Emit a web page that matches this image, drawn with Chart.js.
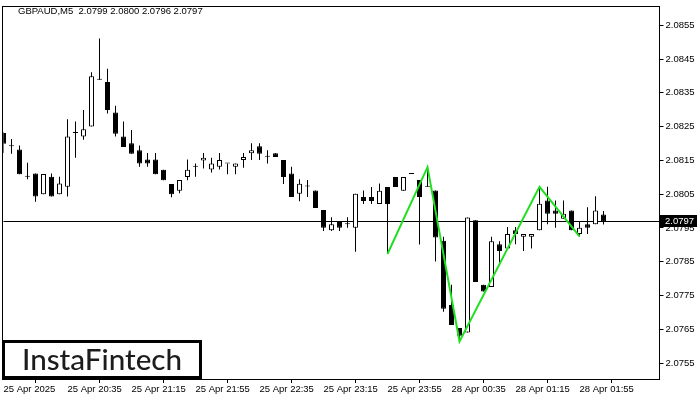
<!DOCTYPE html>
<html>
<head>
<meta charset="utf-8">
<title>GBPAUD M5</title>
<script src="https://cdn.jsdelivr.net/npm/chart.js@4.4.1/dist/chart.umd.min.js"></script>
<style>
  html, body { margin: 0; padding: 0; background: #fff; }
  #wrap { width: 700px; height: 400px; }
</style>
</head>
<body>
<div id="wrap"><canvas id="chart"></canvas></div>
<script>
// GBPAUD M5 candles, 25 Apr 19:55 .. 28 Apr 02:10
const opens = [
  2.08231, 2.08192, 2.08182, 2.08102, 2.08111, 2.08050, 2.08102, 2.08050, 2.08072, 2.08231,
  2.08221, 2.08250, 2.08389, 2.08382, 2.08292, 2.08221, 2.08201, 2.08180, 2.08153, 2.08153,
  2.08122, 2.08080, 2.08060, 2.08101, 2.08131, 2.08150, 2.08123, 2.08131, 2.08141, 2.08131,
  2.08151, 2.08171, 2.08192, 2.08161, 2.08171, 2.08151, 2.08111, 2.08051, 2.08073, 2.08061,
  2.08003, 2.07943, 2.07971, 2.07961, 2.07951, 2.08042, 2.08042, 2.08021, 2.08071, 2.08101,
  2.08060, 2.08110, 2.08092, 2.08072, 2.08061, 2.07912, 2.07722, 2.07654, 2.07641, 2.07973,
  2.07782, 2.07775, 2.07902, 2.07889, 2.07943, 2.07924, 2.07924, 2.07943, 2.08031, 2.08002,
  2.07977, 2.08002, 2.07932, 2.07961, 2.07961, 2.07990
];
const highs = [
  2.08233, 2.08213, 2.08194, 2.08143, 2.08111, 2.08110, 2.08111, 2.08102, 2.08272, 2.08265,
  2.08299, 2.08411, 2.08511, 2.08421, 2.08312, 2.08265, 2.08240, 2.08194, 2.08172, 2.08172,
  2.08122, 2.08080, 2.08092, 2.08153, 2.08141, 2.08172, 2.08158, 2.08172, 2.08141, 2.08141,
  2.08172, 2.08201, 2.08201, 2.08180, 2.08171, 2.08151, 2.08131, 2.08094, 2.08092, 2.08061,
  2.08003, 2.07982, 2.07971, 2.07982, 2.08051, 2.08061, 2.08071, 2.08082, 2.08071, 2.08101,
  2.08101, 2.08110, 2.08092, 2.08130, 2.08061, 2.07924, 2.07782, 2.07654, 2.07981, 2.07973,
  2.07782, 2.07924, 2.07911, 2.07953, 2.07953, 2.07932, 2.07932, 2.08072, 2.08072, 2.08031,
  2.08031, 2.08002, 2.07970, 2.08011, 2.08044, 2.08000
];
const lows = [
  2.08172, 2.08170, 2.08109, 2.08094, 2.08028, 2.08050, 2.08043, 2.08050, 2.08043, 2.08158,
  2.08211, 2.08250, 2.08389, 2.08289, 2.08221, 2.08190, 2.08170, 2.08131, 2.08131, 2.08109,
  2.08091, 2.08041, 2.08053, 2.08091, 2.08102, 2.08126, 2.08114, 2.08123, 2.08109, 2.08109,
  2.08128, 2.08151, 2.08151, 2.08141, 2.08160, 2.08080, 2.08042, 2.08029, 2.08042, 2.08009,
  2.07941, 2.07941, 2.07941, 2.07951, 2.07880, 2.08021, 2.08021, 2.08021, 2.07873, 2.08071,
  2.08060, 2.08110, 2.07901, 2.08072, 2.07851, 2.07702, 2.07663, 2.07614, 2.07641, 2.07790,
  2.07762, 2.07775, 2.07848, 2.07889, 2.07902, 2.07882, 2.07889, 2.07943, 2.07961, 2.07951,
  2.07977, 2.07943, 2.07925, 2.07932, 2.07961, 2.07960
];
const closes = [
  2.08199, 2.08192, 2.08109, 2.08102, 2.08043, 2.08110, 2.08043, 2.08082, 2.08221, 2.08231,
  2.08242, 2.08399, 2.08389, 2.08299, 2.08229, 2.08190, 2.08170, 2.08141, 2.08141, 2.08109,
  2.08091, 2.08050, 2.08092, 2.08122, 2.08131, 2.08158, 2.08141, 2.08151, 2.08141, 2.08141,
  2.08160, 2.08180, 2.08170, 2.08161, 2.08160, 2.08101, 2.08042, 2.08081, 2.08073, 2.08009,
  2.07951, 2.07961, 2.07951, 2.07961, 2.08051, 2.08030, 2.08030, 2.08060, 2.08021, 2.08071,
  2.08101, 2.08110, 2.08042, 2.08072, 2.07922, 2.07711, 2.07663, 2.07631, 2.07981, 2.07790,
  2.07762, 2.07911, 2.07882, 2.07932, 2.07932, 2.07932, 2.07932, 2.08022, 2.07992, 2.07992,
  2.07992, 2.07943, 2.07951, 2.07951, 2.08002, 2.07970
];

// pattern zigzag (candle index, price)
const patternIdx = [48, 53, 57, 67, 72];
const patternPrice = [2.07873, 2.08130, 2.07614, 2.08072, 2.07925];

const timeLabels = ['25 Apr 2025', '25 Apr 20:35', '25 Apr 21:15', '25 Apr 21:55', '25 Apr 22:35',
  '25 Apr 23:15', '25 Apr 23:55', '28 Apr 00:35', '28 Apr 01:15', '28 Apr 01:55'];
const priceTicks = [2.0755, 2.0765, 2.0775, 2.0785, 2.0795, 2.0805, 2.0815, 2.0825, 2.0835, 2.0845, 2.0855];

const symbol = 'GBPAUD,M5';
const slots = 83; // candles + empty shift on the right
const labelStep = 8;

const FONT = 'Liberation Sans, Arial, sans-serif';

const slotLabels = Array.from({ length: slots }, (_, i) => i);
const bodyData = opens.map((o, i) => [o, closes[i]]);
const wickData = lows.map((l, i) => [l, highs[i]]);
const bodyColors = opens.map((o, i) => closes[i] >= o ? '#ffffff' : '#000000');
const patternData = slotLabels.map(i => {
    const k = patternIdx.indexOf(i);
    return k >= 0 ? patternPrice[k] : null;
});

const last = opens.length - 1;

const decor = {
    id: 'decor',
    beforeDatasetsDraw(chart) {
        const { ctx, chartArea: a, scales: { y } } = chart;
        const py = Math.round(y.getPixelForValue(closes[last])) + 0.5;
        ctx.save();
        ctx.strokeStyle = '#000';
        ctx.lineWidth = 1;
        ctx.beginPath();
        ctx.moveTo(a.left, py);
        ctx.lineTo(a.right, py);
        ctx.stroke();
        ctx.restore();
    },
    afterDraw(chart) {
        const { ctx, chartArea: a, scales: { y } } = chart;
        ctx.save();
        // frame
        const L = Math.floor(a.left) - 0.5, T = Math.floor(a.top) - 0.5;
        const R = Math.floor(a.right) + 0.5, B = Math.floor(a.bottom) + 0.5;
        ctx.strokeStyle = '#000';
        ctx.lineWidth = 1;
        ctx.strokeRect(L, T, R - L, B - T);

        // header
        ctx.fillStyle = '#000';
        ctx.font = '9.5px ' + FONT;
        ctx.textBaseline = 'middle';
        ctx.textAlign = 'left';
        const ohlc = [opens[last], highs[last], lows[last], closes[last]].map(v => v.toFixed(4)).join(' ');
        ctx.fillText(symbol + '  ' + ohlc, 18, 11);

        // last price tag
        const py = Math.round(y.getPixelForValue(closes[last]));
        ctx.fillStyle = '#000';
        ctx.fillRect(Math.floor(a.right) + 1, py - 6, 37, 12);
        ctx.fillStyle = '#fff';
        ctx.fillText(closes[last].toFixed(4), Math.floor(a.right) + 6, py + 0.5);

        // logo box
        const bx = 2, by = 340, bw = 200, bh = 39;
        ctx.fillStyle = '#fff';
        ctx.fillRect(bx, by, bw, bh);
        ctx.lineWidth = 3;
        ctx.strokeStyle = '#000';
        ctx.strokeRect(bx + 1.5, by + 1.5, bw - 3, bh - 3);
        ctx.fillStyle = '#1c1c1c';
        const logo = 'InstaFintech';
        ctx.font = '500 28px Lato, "Noto Sans", sans-serif';
        const w = ctx.measureText(logo).width;
        const size = 28 * 160 / w;
        ctx.font = '500 ' + size.toFixed(1) + 'px Lato, "Noto Sans", sans-serif';
        ctx.textAlign = 'left';
        ctx.textBaseline = 'middle';
        ctx.fillText(logo, 22, by + bh / 2 + 0.5);
        ctx.restore();
    }
};

new Chart(document.getElementById('chart'), {
    type: 'bar',
    data: {
        labels: slotLabels,
        datasets: [
            {
                type: 'line',
                data: patternData,
                spanGaps: true,
                borderColor: '#1fe01f',
                borderWidth: 2,
                pointRadius: 0,
                tension: 0,
                order: -1
            },
            {
                data: bodyData,
                backgroundColor: bodyColors,
                borderColor: '#000',
                borderWidth: 1,
                borderSkipped: false,
                barThickness: 5,
                minBarLength: 1,
                inflateAmount: 0,
                grouped: false,
                order: 0
            },
            {
                data: wickData,
                backgroundColor: '#000',
                borderWidth: 0,
                barThickness: 1,
                minBarLength: 1,
                inflateAmount: 0,
                grouped: false,
                order: 1
            }
        ]
    },
    options: {
        responsive: true,
        maintainAspectRatio: false,
        animation: false,
        layout: { padding: { left: 3.5, top: 3, right: 0, bottom: 0 } },
        plugins: {
            legend: { display: false },
            tooltip: { enabled: false }
        },
        scales: {
            x: {
                type: 'category',
                offset: false,
                border: { display: false },
                grid: { display: true, drawOnChartArea: false, color: '#000', tickLength: 4 },
                ticks: {
                    autoSkip: false,
                    maxRotation: 0,
                    align: 'start',
                    padding: 1,
                    color: '#000',
                    font: { family: FONT, size: 9.5 },
                    callback: (v, i) => (i % labelStep === 0 && timeLabels[i / labelStep]) ? timeLabels[i / labelStep] : null
                },
                afterFit: s => { s.height = 21; }
            },
            y: {
                position: 'right',
                min: 2.07503,
                max: 2.08602,
                border: { display: false },
                grid: { display: true, drawOnChartArea: false, color: '#000', tickLength: 4 },
                ticks: {
                    padding: 2,
                    color: '#000',
                    font: { family: FONT, size: 9.5 },
                    callback: v => v.toFixed(4)
                },
                afterBuildTicks: s => { s.ticks = priceTicks.map(v => ({ value: v })); },
                afterFit: s => { s.width = 40.5; }
            }
        }
    },
    plugins: [decor]
});
</script>
</body>
</html>
